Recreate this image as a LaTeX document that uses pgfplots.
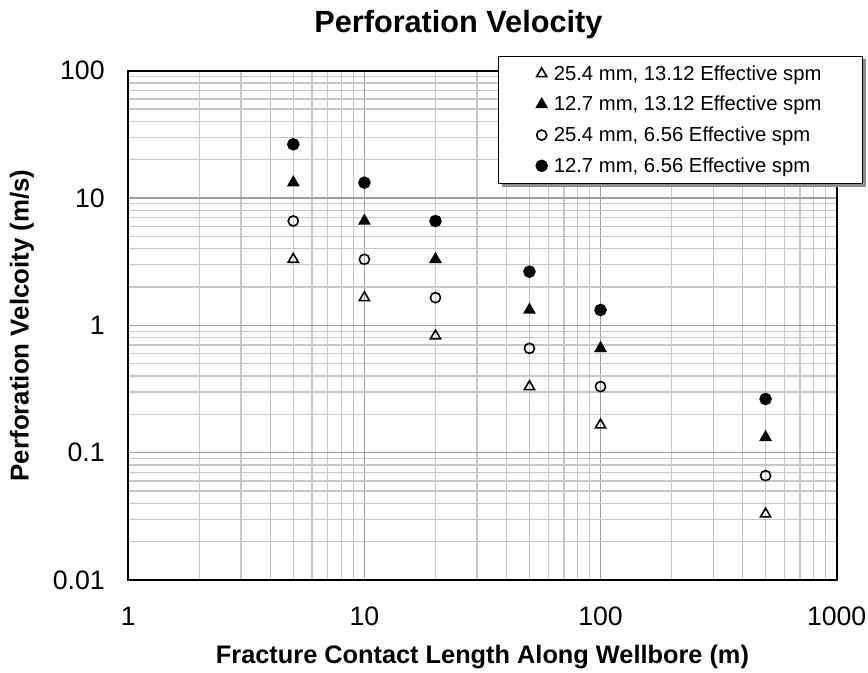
\documentclass[border=0pt]{standalone}
\usepackage{fontspec}
\setmainfont{Liberation Sans}
\usepackage{pgfplots}
\pgfplotsset{compat=1.18}
\usetikzlibrary{shadows}

\begin{document}
\begin{tikzpicture}
% page = 868 x 672 px at 0.75pt per px, axis box corner at (0,0)
\useasboundingbox (-96.2pt,-69pt) rectangle (554.8pt,435pt);
\begin{loglogaxis}[
	scale only axis,
	width=531.3pt, height=382pt,
	xmin=1, xmax=1000,
	ymin=0.01, ymax=100,
	xtick={1,10,100,1000},
	xticklabels={1,10,100,1000},
	ytick={0.01,0.1,1,10,100},
	yticklabels={0.01,0.1,1,10,100},
	major tick length=0pt, minor tick length=0pt,
	grid=both,
	major grid style={color=black!38, line width=0.9pt},
	minor grid style={color=black!22, line width=0.9pt},
	axis line style={line width=1.5pt},
	tick label style={font=\fontsize{20}{22}\selectfont},
	xticklabel style={anchor=center, inner sep=0pt, yshift=-27pt},
	yticklabel style={anchor=east, inner sep=0pt, xshift=-17.5pt},
	every axis title shift=0pt,
	title={Perforation Velocity},
	title style={font=\bfseries\fontsize{23}{25}\selectfont, at={(axis description cs:0.466,1.09)}, anchor=center},
	xlabel={Fracture Contact Length Along Wellbore (m)},
	xlabel style={font=\bfseries\fontsize{19}{21}\selectfont, at={(axis description cs:0.5,-0.151)}, anchor=center},
	ylabel={Perforation Velcoity (m/s)},
	ylabel style={font=\bfseries\fontsize{19.4}{21}\selectfont, at={(axis description cs:-0.150,0.5)}, anchor=center, rotate=0},
	legend style={at={(axis description cs:0.5215,1.0297)}, anchor=north west,
		draw=black, line width=0.8pt, fill=white,
		drop shadow={shadow xshift=2.5pt, shadow yshift=-2.5pt, fill=black!45, opacity=1},
		font=\fontsize{15.2}{17}\selectfont,
		inner xsep=28.5pt, inner ysep=5pt,
		row sep=6.5pt, column sep=3pt},
	legend cell align=left,
]
\addplot[only marks, mark=triangle, mark size=4.4pt, mark options={line width=1.2pt, draw=black, fill=white}]
	coordinates {(5,3.3)(10,1.65)(20,0.825)(50,0.33)(100,0.165)(500,0.033)};
\addlegendentry{25.4 mm, 13.12 Effective spm}
\addplot[only marks, mark=triangle*, mark size=4.4pt, mark options={line width=1.2pt, draw=black, fill=black}]
	coordinates {(5,13.2)(10,6.6)(20,3.3)(50,1.32)(100,0.66)(500,0.132)};
\addlegendentry{12.7 mm, 13.12 Effective spm}
\addplot[only marks, mark=o, mark size=3.8pt, mark options={line width=1.2pt, draw=black, fill=white}]
	coordinates {(5,6.6)(10,3.3)(20,1.65)(50,0.66)(100,0.33)(500,0.066)};
\addlegendentry{25.4 mm, 6.56 Effective spm}
\addplot[only marks, mark=*, mark size=4.1pt, mark options={line width=1.2pt, draw=black, fill=black}]
	coordinates {(5,26.4)(10,13.2)(20,6.6)(50,2.64)(100,1.32)(500,0.264)};
\addlegendentry{12.7 mm, 6.56 Effective spm}
\end{loglogaxis}
\end{tikzpicture}
\end{document}
